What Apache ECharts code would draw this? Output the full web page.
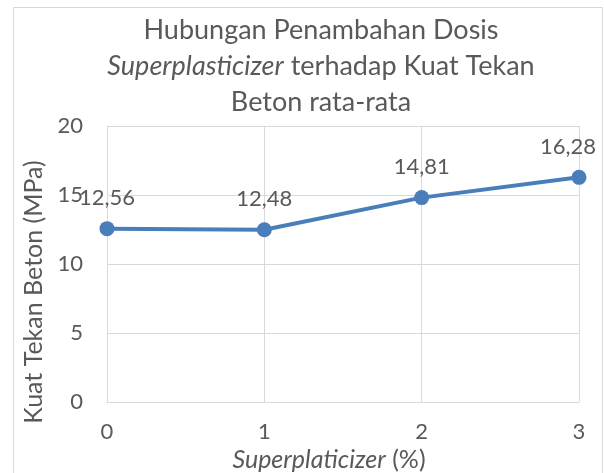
<!DOCTYPE html>
<html>
<head>
<meta charset="utf-8">
<script src="https://cdn.jsdelivr.net/npm/echarts@6/dist/echarts.min.js"></script>
<style>
  html, body { margin: 0; padding: 0; background: #fff; }
  #chart { width: 604px; height: 473px; }
</style>
</head>
<body>
<div id="chart"></div>
<script>
// dosis superplasticizer (%) vs kuat tekan rata-rata (MPa)
var dosis = [0, 1, 2, 3];
var kuatTekan = [12.56, 12.48, 14.81, 16.28];
var yTicks = [0, 5, 10, 15, 20];

var textColor = '#595959';
var gridColor = '#d9d9d9';
var font = 'Lato';

var chart = echarts.init(document.getElementById('chart'));

var option = {
    animation: false,
    backgroundColor: '#fff',
    title: {
        text: 'Hubungan Penambahan Dosis\n{i|Superplasticizer} terhadap Kuat Tekan\nBeton rata-rata',
        left: 316,
        top: 7,
        textAlign: 'center',
        textStyle: {
            fontFamily: font,
            fontSize: 27,
            fontWeight: 'normal',
            color: textColor,
            lineHeight: 36,
            rich: {
                i: { fontFamily: font, fontSize: 27, fontStyle: 'italic', color: textColor, lineHeight: 36 }
            }
        }
    },
    graphic: [{
        type: 'rect',
        shape: { x: 13.5, y: 7.5, width: 589, height: 480 },
        style: { fill: null, stroke: gridColor, lineWidth: 1 },
        silent: true
    }],
    grid: { left: 107, top: 126, right: 25, bottom: 71, outerBoundsMode: 'none' },
    xAxis: {
        type: 'value',
        min: 0,
        max: 3,
        interval: 1,
        name: '{i|Superplaticizer} (%)',
        nameLocation: 'middle',
        nameGap: 37,
        nameTextStyle: {
            fontFamily: font, fontSize: 25, color: textColor,
            padding: [0, 28, 0, 0],
            rich: { i: { fontFamily: font, fontSize: 25, fontStyle: 'italic', color: textColor } }
        },
        axisLine: { show: true, lineStyle: { color: gridColor, width: 1 } },
        axisTick: { show: false },
        axisLabel: { fontFamily: font, fontSize: 22, color: textColor, margin: 19 },
        splitLine: { show: true, lineStyle: { color: gridColor, width: 1 } }
    },
    yAxis: {
        type: 'value',
        min: yTicks[0],
        max: yTicks[yTicks.length - 1],
        interval: 5,
        name: 'Kuat Tekan Beton (MPa)',
        nameLocation: 'middle',
        nameGap: 41,
        nameTextStyle: { fontFamily: font, fontSize: 25, color: textColor, padding: [0, 56, 0, 0] },
        axisLine: { show: true, lineStyle: { color: gridColor, width: 1 } },
        axisTick: { show: false },
        axisLabel: { fontFamily: font, fontSize: 22, color: textColor, margin: 24 },
        splitLine: { show: true, lineStyle: { color: gridColor, width: 1 } }
    },
    series: [{
        type: 'line',
        data: dosis.map(function (d, i) {
            var item = { value: [d, kuatTekan[i]] };
            // last label is pulled inside the chart, like the original
            if (i === dosis.length - 1) item.label = { offset: [-11, 0] };
            return item;
        }),
        symbol: 'circle',
        symbolSize: 15,
        lineStyle: { color: '#4a7ebb', width: 4 },
        itemStyle: { color: '#4a7ebb' },
        label: {
            show: true,
            position: 'top',
            distance: 12,
            fontFamily: font,
            fontSize: 22,
            color: textColor,
            formatter: function (p) { return p.value[1].toFixed(2).replace('.', ','); }
        }
    }]
};

chart.setOption(option);
</script>
</body>
</html>
